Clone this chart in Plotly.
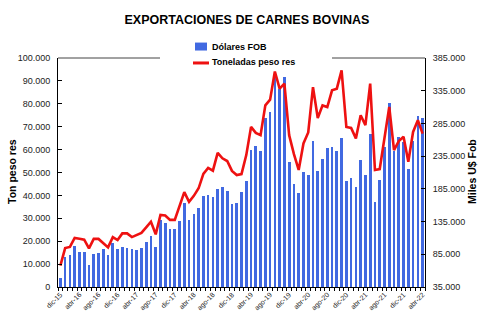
import plotly.graph_objects as go

# --- data ---------------------------------------------------------------
meses_abr = ["ene", "feb", "mar", "abr", "may", "jun", "jul", "ago", "sep", "oct", "nov", "dic"]
months = ["dic-15"] + [f"{m}-{y}" for y in range(16, 22) for m in meses_abr] + \
         ["ene-22", "feb-22", "mar-22", "abr-22"]

tick_labels = ["dic-15", "abr-16", "ago-16", "dic-16", "abr-17", "ago-17", "dic-17",
               "abr-18", "ago-18", "dic-18", "abr-19", "ago-19", "dic-19", "abr-20",
               "ago-20", "dic-20", "abr-21", "ago-21", "dic-21", "abr-22"]

dolares_fob = [49000, 80300, 84500, 98200, 88600, 87800, 69100, 84800, 86400, 92400,
               83200, 102700, 92400, 96600, 95100, 92400, 91900, 95000, 103500, 113700,
               95900, 137300, 133100, 124300, 124300, 136500, 163900, 137700, 146500, 156300,
               174700, 175800, 173000, 185200, 188400, 181800, 162100, 163300, 180000, 197100,
               243900, 249900, 242400, 293400, 301800, 358400, 338100, 355300, 226000, 192500,
               178800, 210800, 206500, 258200, 212300, 230100, 246800, 248800, 243200, 262000,
               196600, 200900, 188400, 229000, 205900, 268100, 165600, 198100, 248500, 316800,
               243200, 263700, 256400, 215300, 258400, 296000, 294000]

toneladas = [9300, 17000, 17500, 21400, 21100, 20700, 16900, 21000, 21000, 19100,
             17300, 21800, 20500, 23400, 23400, 21800, 22800, 23600, 26000, 28500,
             23000, 31500, 31200, 29300, 29300, 34900, 41400, 37200, 39800, 43100,
             49400, 52000, 50800, 58600, 56200, 55000, 50700, 48900, 49300, 57600,
             69900, 67300, 66300, 79300, 81800, 94100, 86600, 88800, 66300, 58000,
             51100, 62700, 67500, 87300, 73800, 79300, 78600, 85900, 86600, 94600,
             69900, 69500, 64900, 75000, 70700, 88800, 51100, 51500, 65600, 78600,
             59800, 63700, 65600, 54700, 67700, 72800, 67000]

series_names = ["Dólares FOB", "Toneladas peso res"]
bar_color = "#4169e1"
line_color = "#ee1111"

# --- figure -------------------------------------------------------------
W, H = 503, 332
L, R, T, B = 58, 78, 57.5, 44.5
PW, PH = W - L - R, H - T - B


def px(x):
    return (x - L) / PW


def py(y):
    return (H - B - y) / PH


fig = go.Figure()
fig.add_trace(go.Bar(
    x=months, y=dolares_fob, name=series_names[0],
    marker=dict(color=bar_color, line=dict(width=0)),
    width=0.56, yaxis="y",
))
fig.add_trace(go.Scatter(
    x=months, y=toneladas, name=series_names[1], mode="lines",
    line=dict(color=line_color, width=2.6), yaxis="y2",
))

ticktext = [m if m in tick_labels else "" for m in months]
font_base = dict(family="Liberation Sans, Arial, sans-serif", color="#111111")

fig.update_layout(
    width=W, height=H,
    margin=dict(l=L, r=R, t=T, b=B, pad=0),
    paper_bgcolor="white", plot_bgcolor="white",
    separators=",.",
    font=font_base,
    showlegend=False,
    title=dict(text="<b>EXPORTACIONES DE CARNES BOVINAS</b>",
               x=247 / W, xanchor="center", y=1 - 20 / H, yanchor="middle",
               font=dict(size=12.5, family="Liberation Sans, Arial, sans-serif", color="#000")),
    xaxis=dict(
        type="category", range=[-0.5, len(months) - 0.5],
        tickmode="array", tickvals=months, ticktext=ticktext,
        tickangle=-45, tickfont=dict(size=7, color="#222"),
        ticks="outside", ticklen=3, tickcolor="#000", tickson="boundaries",
        showline=True, linecolor="#000", linewidth=1, showgrid=False,
    ),
    yaxis=dict(
        side="right", range=[35000, 385000], tick0=35000, dtick=50000,
        tickformat=",d", tickfont=dict(size=9, color="#222"),
        ticks="inside", ticklen=4, tickcolor="#000",
        showline=True, linecolor="#000", linewidth=1, showgrid=False, zeroline=False,
        ticklabelstandoff=5,
    ),
    yaxis2=dict(
        overlaying="y", side="left", range=[0, 100000], dtick=10000,
        tickformat=",d", tickfont=dict(size=9, color="#222"),
        ticks="inside", ticklen=4, tickcolor="#000",
        showline=True, linecolor="#000", linewidth=1, showgrid=False, zeroline=False,
        ticklabelstandoff=5,
    ),
    bargap=0,
)

# top border of plot area, interrupted by the legend box
for x0, x1 in [(58, 160), (332, 425)]:
    fig.add_shape(type="line", xref="paper", yref="paper",
                  x0=px(x0), x1=px(x1), y0=1, y1=1,
                  line=dict(color="#444", width=1))

# custom legend
fig.add_shape(type="rect", xref="paper", yref="paper",
              x0=px(195), x1=px(207), y0=py(50), y1=py(42),
              fillcolor=bar_color, line=dict(width=0))
fig.add_shape(type="line", xref="paper", yref="paper",
              x0=px(193), x1=px(209), y0=py(62.5), y1=py(62.5),
              line=dict(color=line_color, width=3))
for yy, name in [(46, series_names[0]), (62, series_names[1])]:
    fig.add_annotation(text=f"<b>{name}</b>", xref="paper", yref="paper",
                       x=px(209.5), y=py(yy), xanchor="left", yanchor="middle",
                       showarrow=False, font=dict(size=9, color="#000"))

# axis titles
fig.add_annotation(text="<b>Ton peso res</b>", xref="paper", yref="paper",
                   x=px(12), y=py(172),
                   textangle=-90, showarrow=False, xanchor="center", yanchor="middle",
                   font=dict(size=10.5, color="#000"))
fig.add_annotation(text="<b>Miles U$ Fob</b>", xref="paper", yref="paper",
                   x=px(472), y=py(172),
                   textangle=-90, showarrow=False, xanchor="center", yanchor="middle",
                   font=dict(size=10.5, color="#000"))

fig.write_html("out.html")
